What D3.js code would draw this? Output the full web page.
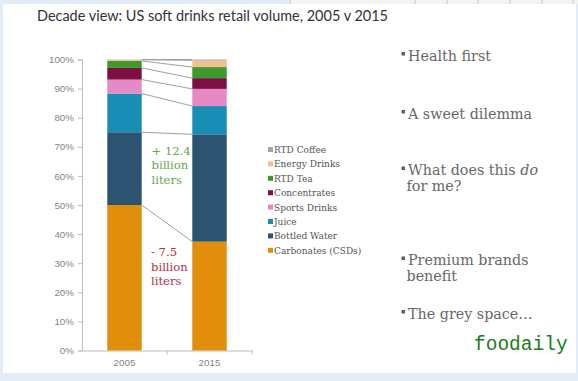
<!DOCTYPE html>
<html>
<head>
<meta charset="utf-8">
<script src="https://cdn.jsdelivr.net/npm/d3@7"></script>
<style>
  html, body { margin: 0; padding: 0; background: #e3edf8; }
  svg { display: block; }
</style>
</head>
<body>
<svg id="chart" width="578" height="381"></svg>
<script>
const categories = ["2005", "2015"];
const seriesNames = ["Carbonates (CSDs)", "Bottled Water", "Juice", "Sports Drinks", "Concentrates", "RTD Tea", "Energy Drinks", "RTD Coffee"];
const values2005 = [50.0, 25.0, 13.3, 4.8, 4.0, 2.4, 0.4, 0.1];
const values2015 = [37.4, 36.9, 9.7, 5.9, 3.7, 3.8, 2.3, 0.3];
const seriesColors = ["#e08e0b", "#2c5470", "#1a8db4", "#e68ac6", "#7c1042", "#3e9a2c", "#f1c08e", "#a6a6a6"];
const yTicks = [0, 10, 20, 30, 40, 50, 60, 70, 80, 90, 100];
const bullets = [
  ["Health first"],
  ["A sweet dilemma"],
  ["What does this |do|", "for me?"],
  ["Premium brands", "benefit"],
  ["The grey space…"]
];

const svg = d3.select("#chart");

// screenshot frame
svg.append("rect").attr("x", 0).attr("y", 0).attr("width", 578).attr("height", 381).attr("fill", "#e3edf8");
svg.append("rect").attr("x", 290).attr("y", 0).attr("width", 288).attr("height", 4).attr("fill", "#f3f3f3");
[290, 415, 447, 478, 510, 542, 573].forEach(x => {
  svg.append("line").attr("x1", x).attr("x2", x).attr("y1", 0).attr("y2", 4).attr("stroke", "#c8c8c8");
});
svg.append("rect").attr("x", 3).attr("y", 4).attr("width", 573).attr("height", 369).attr("fill", "#ffffff");

// title
svg.append("text")
  .attr("x", 37).attr("y", 21)
  .attr("font-family", "Lato, 'Open Sans', sans-serif")
  .attr("font-size", 15.5)
  .attr("fill", "#333")
  .attr("textLength", 351)
  .attr("lengthAdjust", "spacingAndGlyphs")
  .text("Decade view: US soft drinks retail volume, 2005 v 2015");

// data table
const table = categories.map((c, i) => {
  const row = { cat: c };
  seriesNames.forEach((s, j) => { row[s] = (i === 0 ? values2005 : values2015)[j]; });
  return row;
});
const stacked = d3.stack().keys(seriesNames)(table);

const x = d3.scaleBand().domain(categories).range([82, 252]);
const y = d3.scaleLinear().domain([0, 100]).range([350.5, 59.5]);
const barW = x.bandwidth() * 0.405;
const barX = c => x(c) + (x.bandwidth() - barW) / 2;

// y axis
const yAxis = d3.axisLeft(y).tickValues(yTicks).tickFormat(d => d + "%").tickSize(4).tickPadding(4);
const gy = svg.append("g").attr("transform", "translate(82,0)").call(yAxis);
gy.select(".domain").attr("stroke", "#bdbdbd");
gy.selectAll(".tick line").attr("stroke", "#bdbdbd");
gy.selectAll(".tick text").attr("fill", "#858585").attr("font-family", "'Liberation Sans', Arial, sans-serif").attr("font-size", 9.8);

// x axis
const xAxis = d3.axisBottom(x).tickSize(0).tickPadding(9);
const gx = svg.append("g").attr("transform", "translate(0,350.5)").call(xAxis);
gx.select(".domain").attr("stroke", "#bdbdbd");
gx.selectAll(".tick text").attr("fill", "#858585").attr("font-family", "'Liberation Sans', Arial, sans-serif").attr("font-size", 9.8);
// band boundary ticks
categories.forEach((c, i) => {
  if (i > 0) {
    svg.append("line").attr("x1", x(c)).attr("x2", x(c)).attr("y1", 350.5).attr("y2", 354.5).attr("stroke", "#bdbdbd");
  }
});
svg.append("line").attr("x1", x.range()[1]).attr("x2", x.range()[1]).attr("y1", 350.5).attr("y2", 354.5).attr("stroke", "#bdbdbd");

// bars
svg.append("g").selectAll("g").data(stacked).join("g")
  .attr("fill", (d, i) => seriesColors[i])
  .selectAll("rect").data(d => d).join("rect")
  .attr("x", d => barX(d.data.cat))
  .attr("width", barW)
  .attr("y", d => y(d[1]))
  .attr("height", d => y(d[0]) - y(d[1]));

// connector lines between top of each series
const conn = svg.append("g").attr("stroke", "#a0a0a0").attr("stroke-width", 1);
stacked.forEach(s => {
  conn.append("line")
    .attr("x1", barX(categories[0]) + barW)
    .attr("y1", y(s[0][1]))
    .attr("x2", barX(categories[1]))
    .attr("y2", y(s[1][1]));
});

// annotations
const serif = "'DejaVu Serif', serif";
const ann = [
  { lines: ["+ 12.4", "billion", "liters"], color: "#64a850", x: 151.5, y: 154.5 },
  { lines: ["- 7.5", "billion", "liters"], color: "#b3304a", x: 151, y: 256 }
];
ann.forEach(a => {
  const t = svg.append("text").attr("font-family", serif).attr("font-size", 11.6).attr("fill", a.color);
  a.lines.forEach((l, i) => {
    t.append("tspan").attr("x", a.x).attr("y", a.y + i * 14.5).text(l);
  });
});

// legend
const legendOrder = seriesNames.map((s, i) => i).reverse();
const lg = svg.append("g");
legendOrder.forEach((si, k) => {
  const cy = 150 + k * 14.4;
  lg.append("rect").attr("x", 268).attr("y", cy - 3).attr("width", 5).attr("height", 5).attr("fill", seriesColors[si]);
  lg.append("text").attr("x", 274).attr("y", cy + 3)
    .attr("font-family", serif).attr("font-size", 9).attr("fill", "#555")
    .text(seriesNames[si]);
});

// bullets on right
const bulletY = [60.5, 118.5, 175, 265, 318.5];
bullets.forEach((b, i) => {
  const by = bulletY[i];
  svg.append("rect").attr("x", 401.5).attr("y", by - 8.5).attr("width", 3.5).attr("height", 3.5).attr("fill", "#5f5f5f");
  b.forEach((line, j) => {
    const t = svg.append("text")
      .attr("x", j === 0 ? 408 : 406.5).attr("y", by + j * 15.5)
      .attr("font-family", serif).attr("font-size", 14.3).attr("fill", "#686868");
    line.split("|").forEach((part, pi) => {
      if (part.length) t.append("tspan").attr("font-style", pi % 2 ? "italic" : "normal").text(part);
    });
  });
});

// watermark
svg.append("text").attr("x", 474).attr("y", 350)
  .attr("font-family", "'Liberation Mono', 'DejaVu Sans Mono', monospace")
  .attr("font-size", 19.5).attr("fill", "#16801a")
  .text("foodaily");
</script>
</body>
</html>
